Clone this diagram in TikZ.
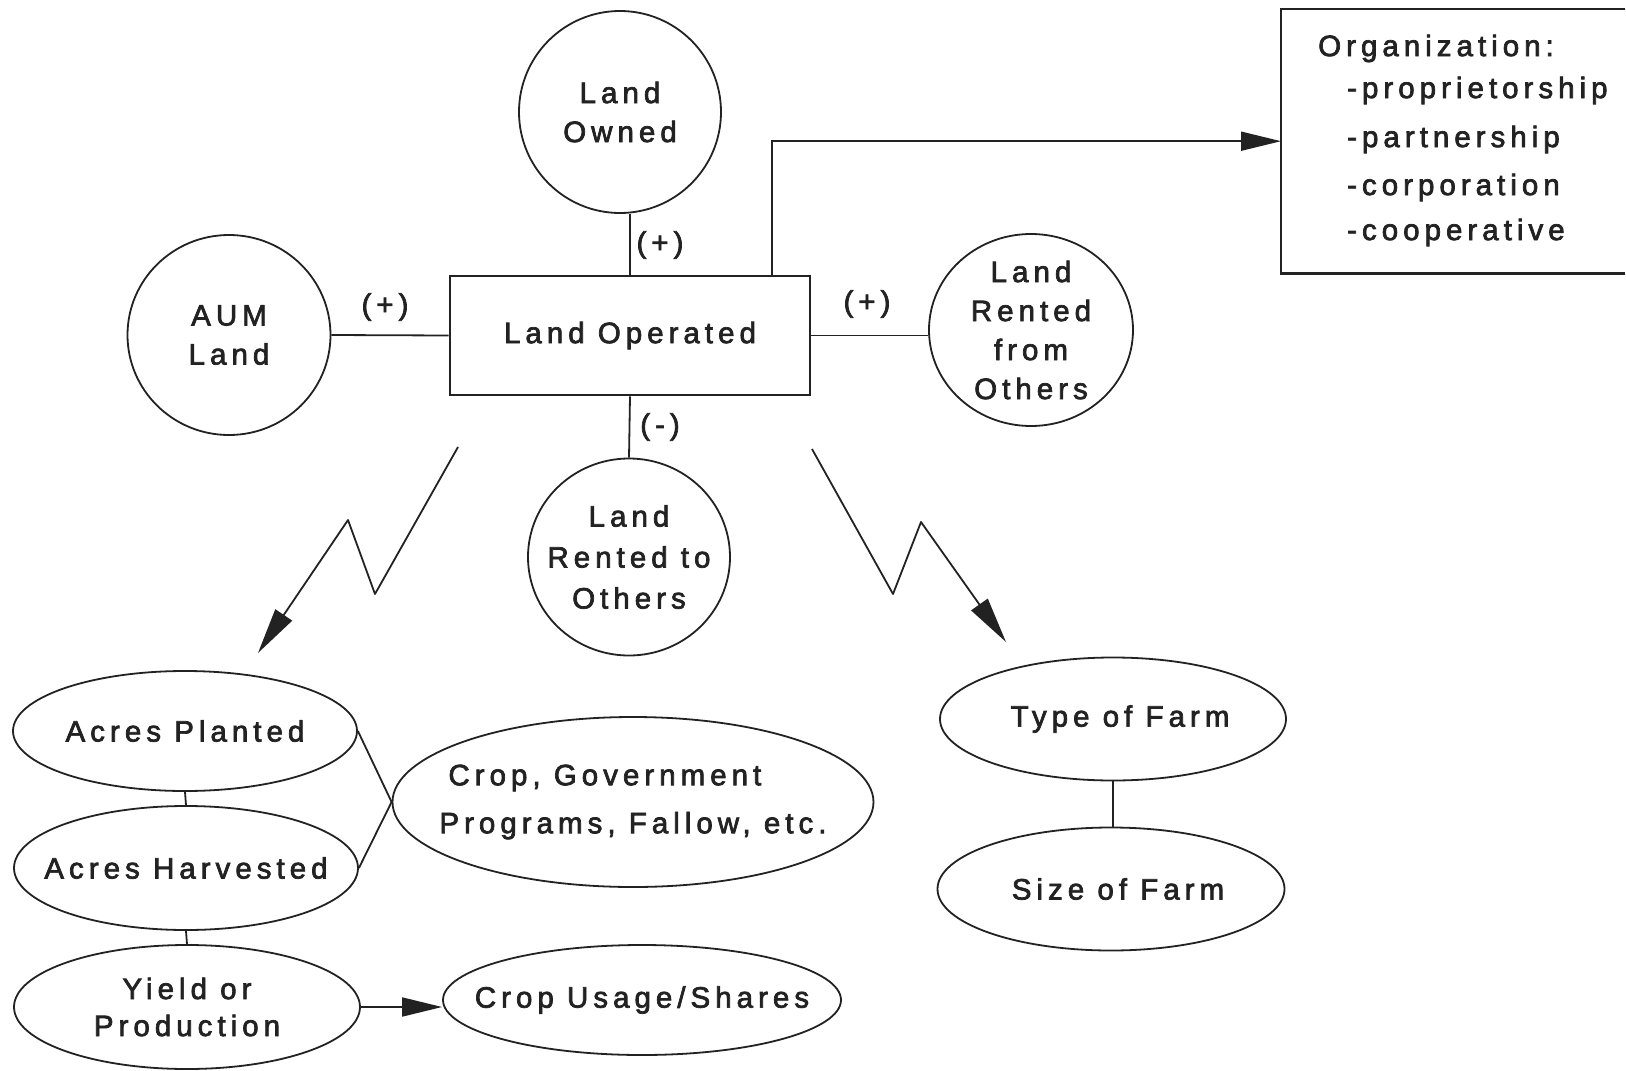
\documentclass[tikz,border=0pt]{standalone}
\usepackage{fontspec}
\setmainfont[LetterSpace=17,FakeBold=2.4]{Liberation Sans}
\usetikzlibrary{shapes.geometric,arrows.meta}
\definecolor{ink}{HTML}{222222}
\begin{document}
\begin{tikzpicture}[x=1pt,y=-1pt,
  every node/.style={font=\fontsize{29.5}{39}\selectfont, text=ink},
  circ/.style={ellipse, draw=ink, line width=1.8pt, inner xsep=-40pt, inner ysep=-20pt, align=center},
  opbox/.style={rectangle, draw=ink, line width=2.6pt, inner sep=0pt},
  lbl/.style={inner sep=0pt},
  conn/.style={draw=ink, line width=1.8pt},
  arr/.style={conn, -{Triangle[length=40pt,width=19pt]}},
  zarr/.style={conn, line join=round, -{Triangle[length=46pt,width=20pt]}}
]
\useasboundingbox (0,0) rectangle (1626,1071);

% top part
\node[circ, minimum width=202pt, minimum height=202pt] (own) at (620,112) {Land\\Owned};
\node[circ, minimum width=203pt, minimum height=200pt] (aum) at (229,335) {AUM\\Land};
\node[circ, minimum width=204pt, minimum height=192pt] (rfrom) at (1031,330) {Land\\Rented\\from\\Others};
\node[circ, minimum width=202pt, minimum height=197pt, font=\fontsize{29.5}{41}\selectfont] (rto) at (629,557) {Land\\Rented to\\Others};
\node[opbox, minimum width=360pt, minimum height=119pt] (op) at (630,335.5) {Land Operated};

\node[draw=none, inner sep=0pt, anchor=north west, minimum width=344pt, minimum height=264pt] (org) at (1281,9) {};
\draw[draw=ink, line width=2.4pt] (org.north east) -- (org.north west) -- (org.south west) -- (org.south east);
\node[lbl, anchor=north west, align=left] (orgtxt) at (1318,34.5)
  {Organization:\\[3pt]
   \hspace*{29pt}-proprietorship\\[10pt]
   \hspace*{29pt}-partnership\\[9pt]
   \hspace*{29pt}-corporation\\[6pt]
   \hspace*{29pt}-cooperative};

\draw[conn] (op.north) -- (op.north |- own.south);
\draw[conn] (aum.east) -- (op.west);
\draw[conn] (op.east) -- (op.east -| rfrom.west);
\draw[conn] (op.south) -- (rto.north);
\draw[arr] ([xshift=-39pt]op.north east) |- (org.west);

\node[lbl] (l1) at (660,245) {(+)};
\node[lbl] (l2) at (385,307) {(+)};
\node[lbl] (l3) at (867,304) {(+)};
\node[lbl] (l4) at (660,427) {(-)};

% zigzag arrows
\coordinate (za) at (458,447);
\coordinate (zb) at (375,594);
\coordinate (zc) at (348,520);
\coordinate (zd) at (258,653);
\draw[zarr] (za) -- (zb) -- (zc) -- (zd);
\coordinate (ya) at (812,449);
\coordinate (yb) at (893,594);
\coordinate (yc) at (921,522);
\coordinate (yd) at (1006,642);
\draw[zarr] (ya) -- (yb) -- (yc) -- (yd);

% lower left
\node[circ, minimum width=344pt, minimum height=120pt] (planted) at (185,731) {Acres Planted};
\node[circ, minimum width=344pt, minimum height=124pt] (harvested) at (186,868) {Acres Harvested};
\node[circ, minimum width=346pt, minimum height=124pt, font=\fontsize{29.5}{37}\selectfont] (yield) at (187,1007) {Yield or\\Production};
\node[circ, minimum width=481pt, minimum height=170pt, align=left, font=\fontsize{29.5}{48}\selectfont] (cropgov) at (633,802) {\hspace*{9pt}Crop, Government\\Programs, Fallow, etc.};
\node[circ, minimum width=398pt, minimum height=110pt] (usage) at (642,1000) {Crop Usage/Shares};

\draw[conn] (planted.south) -- (harvested.north);
\draw[conn] (harvested.south) -- (yield.north);
\draw[conn] (planted.east) -- (cropgov.west);
\draw[conn] (harvested.east) -- (cropgov.west);
\draw[arr] (yield.east) -- (yield.east -| usage.west);

% lower right
\node[circ, minimum width=346pt, minimum height=123pt] (type) at (1113,719) {\hspace*{14pt}Type of Farm};
\node[circ, minimum width=347pt, minimum height=123pt] (size) at (1111,889) {\hspace*{14pt}Size of Farm};
\draw[conn] (type.south) -- (type.south |- size.north);
\end{tikzpicture}
\end{document}
